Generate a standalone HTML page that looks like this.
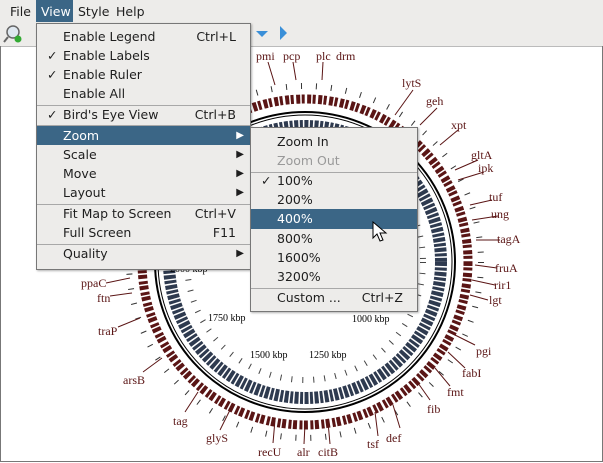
<!DOCTYPE html>
<html><head><style>
body{margin:0;width:603px;height:463px;overflow:hidden;background:#fff;font-family:"DejaVu Sans","Liberation Sans",sans-serif;font-size:12.5px;color:#1e1e1e;position:relative}
.bar{position:absolute;left:0;top:0;width:603px;height:22px;background:#edecea}
.bar span{position:absolute;top:4px}
.tb{position:absolute;left:0;top:22px;width:603px;height:24px;background:#edecea;border-bottom:1px solid #bbb}
.canvas{position:absolute;left:0;top:46px;width:601px;height:415px;border:1px solid #777;border-top:none}
.menu{position:absolute;background:#edecea;border:1px solid #777;box-shadow:1px 1px 2px rgba(0,0,0,.3)}
.it{position:absolute;left:0;right:0;height:19px;line-height:19px}
.it .t{position:absolute;left:26px}
.it .k{position:absolute;right:14px}
.it .c{position:absolute;left:10px}
.it .a{position:absolute;right:6px;font-size:10px}
.hl{background:#3b6686;color:#fff}
.sep{position:absolute;left:0;right:0;height:1px;background:#a8a8a8}
svg text{font-family:"Liberation Serif",serif;font-size:12px;fill:#5a1414}
</style></head><body>
<div class="bar"><span style="left:10px">File</span><span style="left:36px;top:0;width:37px;height:22px;background:#3b6686"></span><span style="left:41px;color:#fff">View</span><span style="left:78px">Style</span><span style="left:116px">Help</span></div>
<div class="tb">
<svg width="603" height="24" style="position:absolute;left:0;top:0"><circle cx="13" cy="10" r="6" fill="#dfe8f0" stroke="#666" stroke-width="1.5"/><line x1="8" y1="15" x2="4" y2="20" stroke="#666" stroke-width="2"/><circle cx="18" cy="17" r="3.5" fill="#3a3"/><path d="M256 9 h12 l-6 6z" fill="#3a8fd8"/><path d="M280 4 v14 l7 -7z" fill="#3a8fd8"/></svg>
</div>
<div class="canvas"></div>
<svg width="603" height="463" style="position:absolute;left:0;top:0">
<g transform="translate(305,262)">
<circle r="163" fill="none" stroke="#5a1515" stroke-width="9" stroke-dasharray="4 1.5 3 2.5"/>
<circle r="150" fill="none" stroke="#000" stroke-width="2"/>
<circle r="147" fill="none" stroke="#000" stroke-width="1"/>
<circle r="136" fill="none" stroke="#2e3a4f" stroke-width="12" stroke-dasharray="4 1.5 3 1.5"/>
<circle r="176" fill="none" stroke="#333" stroke-width="6" stroke-dasharray="1 14"/>
<circle r="118" fill="none" stroke="#444" stroke-width="6" stroke-dasharray="1 10"/>
</g>
<g stroke="#5a1414" stroke-width="1">
<line x1="268" y1="62" x2="275" y2="85"/><line x1="293" y1="62" x2="296" y2="80"/><line x1="323" y1="62" x2="322" y2="80"/><line x1="413" y1="90" x2="395" y2="115"/><line x1="437" y1="108" x2="420" y2="125"/><line x1="458" y1="130" x2="440" y2="145"/><line x1="478" y1="160" x2="455" y2="170"/><line x1="484" y1="172" x2="458" y2="180"/><line x1="492" y1="200" x2="470" y2="205"/><line x1="498" y1="216" x2="472" y2="220"/><line x1="500" y1="240" x2="476" y2="240"/><line x1="497" y1="268" x2="475" y2="265"/><line x1="495" y1="285" x2="472" y2="280"/><line x1="488" y1="300" x2="470" y2="295"/><line x1="475" y1="345" x2="455" y2="335"/><line x1="465" y1="368" x2="448" y2="352"/><line x1="450" y1="386" x2="435" y2="368"/><line x1="430" y1="400" x2="418" y2="383"/><line x1="400" y1="428" x2="393" y2="405"/><line x1="378" y1="436" x2="375" y2="412"/><line x1="330" y1="444" x2="328" y2="422"/><line x1="304" y1="444" x2="305" y2="424"/><line x1="273" y1="443" x2="275" y2="420"/><line x1="220" y1="430" x2="230" y2="410"/><line x1="185" y1="412" x2="198" y2="392"/><line x1="143" y1="372" x2="162" y2="358"/><line x1="118" y1="327" x2="140" y2="318"/><line x1="110" y1="296" x2="132" y2="293"/><line x1="106" y1="283" x2="130" y2="278"/>
</g>
<text x="256" y="60">pmi</text><text x="283" y="60">pcp</text><text x="316" y="60">plc</text><text x="336" y="60">drm</text>
<text x="402" y="87">lytS</text><text x="426" y="105">geh</text><text x="451" y="129">xpt</text><text x="471" y="159">gltA</text><text x="478" y="172">ipk</text><text x="489" y="201">tuf</text><text x="491" y="218">ung</text><text x="497" y="243">tagA</text><text x="495" y="272">fruA</text><text x="494" y="289">rir1</text><text x="489" y="304">lgt</text><text x="476" y="355">pgi</text><text x="462" y="377">fabI</text><text x="447" y="396">fmt</text><text x="427" y="413">fib</text><text x="386" y="442">def</text><text x="367" y="448">tsf</text><text x="318" y="456">citB</text><text x="297" y="456">alr</text><text x="258" y="456">recU</text><text x="206" y="442">glyS</text><text x="173" y="425">tag</text><text x="123" y="384">arsB</text><text x="98" y="335">traP</text><text x="97" y="302">ftn</text><text x="81" y="287">ppaC</text>
<g><text x="208" y="321" style="fill:#000;font-size:10px">1750 kbp</text><text x="250" y="358" style="fill:#000;font-size:10px">1500 kbp</text><text x="309" y="358" style="fill:#000;font-size:10px">1250 kbp</text><text x="352" y="322" style="fill:#000;font-size:10px">1000 kbp</text><text x="170" y="272" style="fill:#000;font-size:10px">2000 kbp</text></g>
</svg>
<div class="menu" style="left:36px;top:23px;width:213px;height:245px">
<div class="it" style="top:3px"><span class="t">Enable Legend</span><span class="k">Ctrl+L</span></div>
<div class="it" style="top:22px"><span class="c">✓</span><span class="t">Enable Labels</span></div>
<div class="it" style="top:41px"><span class="c">✓</span><span class="t">Enable Ruler</span></div>
<div class="it" style="top:60px"><span class="t">Enable All</span></div>
<div class="sep" style="top:81px"></div>
<div class="it" style="top:81px"><span class="c">✓</span><span class="t">Bird's Eye View</span><span class="k">Ctrl+B</span></div>
<div class="sep" style="top:101px"></div>
<div class="it hl" style="top:102px"><span class="t">Zoom</span><span class="a">▶</span></div>
<div class="it" style="top:121px"><span class="t">Scale</span><span class="a">▶</span></div>
<div class="it" style="top:140px"><span class="t">Move</span><span class="a">▶</span></div>
<div class="it" style="top:159px"><span class="t">Layout</span><span class="a">▶</span></div>
<div class="sep" style="top:180px"></div>
<div class="it" style="top:180px"><span class="t">Fit Map to Screen</span><span class="k">Ctrl+V</span></div>
<div class="it" style="top:199px"><span class="t">Full Screen</span><span class="k">F11</span></div>
<div class="sep" style="top:220px"></div>
<div class="it" style="top:220px"><span class="t">Quality</span><span class="a">▶</span></div>
</div>
<div class="menu" style="left:250px;top:127px;width:166px;height:183px">
<div class="it" style="top:4px"><span class="t">Zoom In</span></div>
<div class="it" style="top:23px;color:#999"><span class="t">Zoom Out</span></div>
<div class="sep" style="top:44px"></div>
<div class="it" style="top:43px"><span class="c">✓</span><span class="t">100%</span></div>
<div class="it" style="top:62px"><span class="t">200%</span></div>
<div class="it hl" style="top:81px;height:20px"><span class="t">400%</span></div>
<div class="it" style="top:101px"><span class="t">800%</span></div>
<div class="it" style="top:120px"><span class="t">1600%</span></div>
<div class="it" style="top:139px"><span class="t">3200%</span></div>
<div class="sep" style="top:160px"></div>
<div class="it" style="top:160px"><span class="t">Custom ...</span><span class="k">Ctrl+Z</span></div>
</div>
<svg width="20" height="24" style="position:absolute;left:372px;top:221px"><path d="M1 1 v16 l4 -4 l3 7 l3 -1 l-3 -7 h6z" fill="#fff" stroke="#000"/></svg>
</body></html>
